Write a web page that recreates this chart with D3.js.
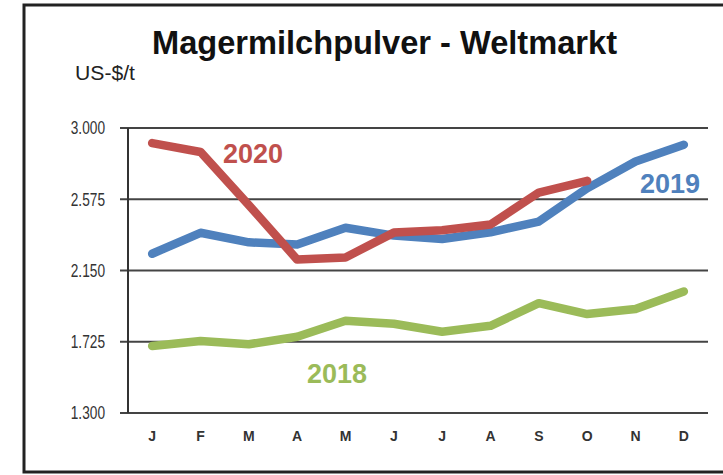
<!DOCTYPE html>
<html>
<head>
<meta charset="utf-8">
<script src="https://cdn.jsdelivr.net/npm/d3@7"></script>
<style>
  body { margin: 0; background: #fff; }
  text { font-family: "Liberation Sans", Arial, sans-serif; }
</style>
</head>
<body>
<div id="chart"></div>
<script>
const months = ["J", "F", "M", "A", "M", "J", "J", "A", "S", "O", "N", "D"];
const yTicks = [1300, 1725, 2150, 2575, 3000];
const values2018 = [1700, 1730, 1710, 1755, 1850, 1832, 1785, 1820, 1955, 1890, 1920, 2025];
const values2019 = [2250, 2375, 2318, 2305, 2405, 2358, 2338, 2378, 2442, 2640, 2800, 2900];
const values2020 = [2910, 2857, 2540, 2215, 2228, 2376, 2390, 2424, 2615, 2685];

const w = 723, h = 475;
const margin = {top: 128, right: 15, bottom: 62, left: 128};

const series = [
  {name: "2018", values: values2018, color: "#9bbb59", lx: 307, ly: 383},
  {name: "2019", values: values2019, color: "#4f81bd", lx: 640, ly: 193},
  {name: "2020", values: values2020, color: "#c0504d", lx: 223, ly: 163}
];

const svg = d3.select("#chart").append("svg")
    .attr("width", w)
    .attr("height", h);

// frame
svg.append("rect")
    .attr("x", 24).attr("y", 5)
    .attr("width", 760).attr("height", 467)
    .attr("fill", "#fff")
    .attr("stroke", "#222")
    .attr("stroke-width", 3);

const x = d3.scaleBand()
    .domain(d3.range(months.length))
    .range([margin.left, w - margin.right]);

const y = d3.scaleLinear()
    .domain([1300, 3000])
    .range([h - margin.bottom, margin.top]);

// squeeze text horizontally like the original scan
function squeeze(sel, f) {
  sel.each(function () {
    const len = this.getComputedTextLength();
    d3.select(this).attr("textLength", len * f).attr("lengthAdjust", "spacingAndGlyphs");
  });
}

// grid
svg.append("g")
    .selectAll("line")
    .data(yTicks)
    .enter().append("line")
    .attr("x1", margin.left - 8)
    .attr("x2", w - margin.right)
    .attr("y1", d => y(d))
    .attr("y2", d => y(d))
    .attr("stroke", "#444")
    .attr("stroke-width", 2);

svg.append("line")
    .attr("x1", margin.left).attr("x2", margin.left)
    .attr("y1", y(3000)).attr("y2", y(1300))
    .attr("stroke", "#333")
    .attr("stroke-width", 2);

svg.append("g")
    .selectAll("text")
    .data(yTicks)
    .enter().append("text")
    .attr("x", 105)
    .attr("y", d => y(d))
    .attr("dy", "0.35em")
    .attr("text-anchor", "end")
    .attr("font-size", 18)
    .attr("fill", "#333")
    .text(d => d3.format(",")(d).replace(",", "."))
    .call(squeeze, 0.76);

svg.append("g")
    .selectAll("text")
    .data(months)
    .enter().append("text")
    .attr("x", (d, i) => x(i) + x.bandwidth() / 2)
    .attr("y", 441)
    .attr("text-anchor", "middle")
    .attr("font-size", 14)
    .attr("font-weight", "bold")
    .attr("fill", "#333")
    .text(d => d);

const line = d3.line()
    .x((d, i) => x(i) + x.bandwidth() / 2)
    .y(d => y(d));

svg.append("g")
    .selectAll("path")
    .data(series)
    .enter().append("path")
    .attr("d", d => line(d.values))
    .attr("fill", "none")
    .attr("stroke", d => d.color)
    .attr("stroke-width", 8.5)
    .attr("stroke-linejoin", "round")
    .attr("stroke-linecap", "round");

svg.append("g")
    .selectAll("text")
    .data(series)
    .enter().append("text")
    .attr("x", d => d.lx)
    .attr("y", d => d.ly)
    .attr("font-size", 27)
    .attr("font-weight", "bold")
    .attr("fill", d => d.color)
    .text(d => d.name);

svg.append("text")
    .attr("x", 152)
    .attr("y", 54)
    .attr("font-size", 33)
    .attr("font-weight", "bold")
    .attr("fill", "#111")
    .text("Magermilchpulver - Weltmarkt")
    .each(function () {
      d3.select(this).attr("textLength", 465).attr("lengthAdjust", "spacingAndGlyphs");
    });

svg.append("text")
    .attr("x", 75)
    .attr("y", 80)
    .attr("font-size", 20)
    .attr("fill", "#222")
    .text("US-$/t")
    .each(function () {
      d3.select(this).attr("textLength", 60).attr("lengthAdjust", "spacingAndGlyphs");
    });
</script>
</body>
</html>
